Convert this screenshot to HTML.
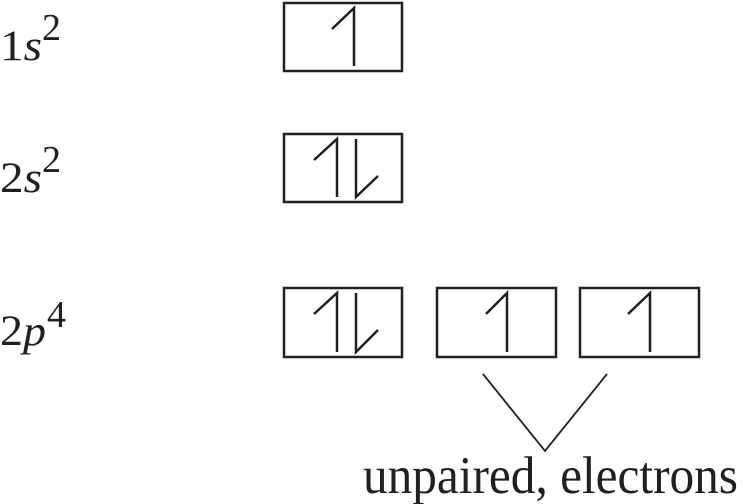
<!DOCTYPE html>
<html><head><meta charset="utf-8"><style>html,body{margin:0;padding:0;background:#fff;}svg{display:block}svg text{font-family:"Liberation Serif","Times New Roman",serif;}</style></head>
<body>
<svg width="743" height="504" viewBox="0 0 743 504" xmlns="http://www.w3.org/2000/svg" fill="#231f20">
<g fill="none" stroke="#231f20" stroke-width="2.5">
<rect x="284" y="3" width="118" height="68"/>
<rect x="284" y="134" width="118" height="68"/>
<rect x="284" y="288" width="118" height="69"/>
<rect x="437" y="288" width="119" height="69"/>
<rect x="580" y="288" width="119" height="69"/>
<polyline points="332,29 354,8 354,66"/>
<polyline points="314,160 337,139 337,197"/>
<polyline points="356,139 356,197 378,176"/>
<polyline points="314,314 337,293 337,352"/>
<polyline points="356,293 356,352 378,330"/>
<polyline points="486,314 507,293 507,352"/>
<polyline points="628,314 650,293 650,352"/>
<polyline points="483,374 545,451 607,374" stroke-width="1.8"/>
</g>
<text x="0" y="60" font-size="43" textLength="42" lengthAdjust="spacingAndGlyphs">1<tspan font-style="italic">s</tspan></text>
<text x="42" y="40" font-size="38">2</text>
<text x="0" y="192" font-size="43" textLength="42" lengthAdjust="spacingAndGlyphs">2<tspan font-style="italic">s</tspan></text>
<text x="42" y="172" font-size="38">2</text>
<text x="0" y="345" font-size="43" textLength="46" lengthAdjust="spacingAndGlyphs">2<tspan font-style="italic">p</tspan></text>
<text x="47" y="327" font-size="38">4</text>
<text x="363" y="493" font-size="53" textLength="375" lengthAdjust="spacingAndGlyphs">unpaired, electrons</text>
</svg>
</body></html>
